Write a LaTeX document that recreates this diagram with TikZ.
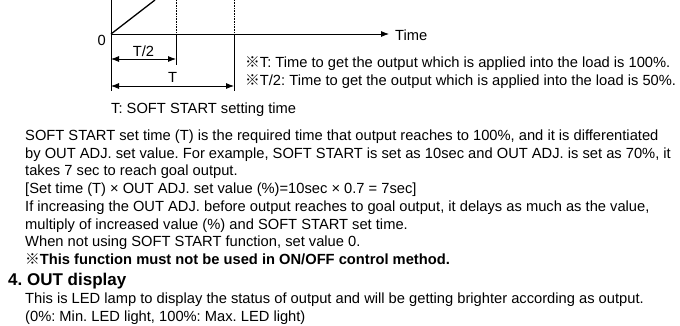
\documentclass[tikz,border=0pt]{standalone}
\usepackage{fontspec}
\setmainfont{Liberation Sans}
\newfontfamily\cjk{Noto Sans CJK JP}
\usetikzlibrary{arrows.meta}
\newcommand{\refmark}{{\cjk ※}}
\frenchspacing

\begin{document}
\begin{tikzpicture}[x=1pt, y=-1pt,
    font=\fontsize{14.7}{17}\selectfont,
    txt/.style={anchor=base west, inner sep=0pt},
    ax/.style={line width=0.8pt},
    ramp/.style={line width=1.3pt},
    guide/.style={densely dotted, line width=0.6pt},
    axarr/.style={-{Latex[length=8pt,width=6pt]}, line width=0.8pt},
    dimarr/.style={{Latex[length=8pt,width=6pt]}-{Latex[length=8pt,width=6pt]}, line width=0.8pt}
  ]
  \useasboundingbox (0,0) rectangle (680,325);

  % time chart
  \coordinate (o) at (111,34);
  \coordinate (ytop) at (111,0);
  \coordinate (ybot) at (111,91);
  \coordinate (rtop) at (155,0);
  \coordinate (htop) at (176,0);
  \coordinate (hax) at (176,34);
  \coordinate (hbot) at (176,65);
  \coordinate (ftop) at (234,0);
  \coordinate (fax) at (234,34);
  \coordinate (fbot) at (234,91);
  \coordinate (xend) at (389,34);
  \coordinate (hl) at (111,59);
  \coordinate (hr) at (176,59);
  \coordinate (fl) at (111,86);
  \coordinate (fr) at (234,86);

  \draw[ax] (ytop) -- (ybot);
  \draw[axarr] (o) -- (xend);
  \draw[ramp] (o) -- (rtop);
  \draw[guide] (htop) -- (hax);
  \draw[guide] (ftop) -- (fax);
  \draw[ax] (hax) -- (hbot);
  \draw[ax] (fax) -- (fbot);
  \draw[dimarr] (hl) -- (hr);
  \draw[dimarr] (fl) -- (fr);

  \node[anchor=base east, inner sep=0pt] (zero) at (106,45) {0};
  \node[txt] (time) at (395,40) {Time};
  \node[anchor=base, inner sep=0pt] (half) at (143.5,56.5) {T/2};
  \node[anchor=base, inner sep=0pt] (full) at (172.5,82) {T};
  \node[txt] (note1) at (245,67) {\refmark T: Time to get the output which is applied into the load is 100\%.};
  \node[txt] (note2) at (245,85) {\refmark T/2: Time to get the output which is applied into the load is 50\%.};
  \node[txt] (cap) at (111,113) {T: SOFT START setting time};

  % description
  \node[txt] (p1) at (25,140) {SOFT START set time (T) is the required time that output reaches to 100\%, and it is differentiated};
  \node[txt] (p2) at (25,158) {by OUT ADJ. set value. For example, SOFT START is set as 10sec and OUT ADJ. is set as 70\%, it};
  \node[txt] (p3) at (25,175.5) {takes 7 sec to reach goal output.};
  \node[txt] (p4) at (25,193.5) {[Set time (T) × OUT ADJ. set value (\%)=10sec × 0.7 = 7sec]};
  \node[txt] (p5) at (25,211) {If increasing the OUT ADJ. before output reaches to goal output, it delays as much as the value,};
  \node[txt] (p6) at (25,229) {multiply of increased value (\%) and SOFT START set time.};
  \node[txt] (p7) at (25,246.5) {When not using SOFT START function, set value 0.};
  \node[txt] (p8) at (25,264.5) {\refmark\textbf{This function must not be used in ON/OFF control method.}};
  \node[txt, font=\fontsize{17}{20}\selectfont\bfseries] (head) at (8,285) {4. OUT display};
  \node[txt] (q1) at (25,303.5) {This is LED lamp to display the status of output and will be getting brighter according as output.};
  \node[txt] (q2) at (25,321.5) {(0\%: Min. LED light, 100\%: Max. LED light)};
\end{tikzpicture}
\end{document}
